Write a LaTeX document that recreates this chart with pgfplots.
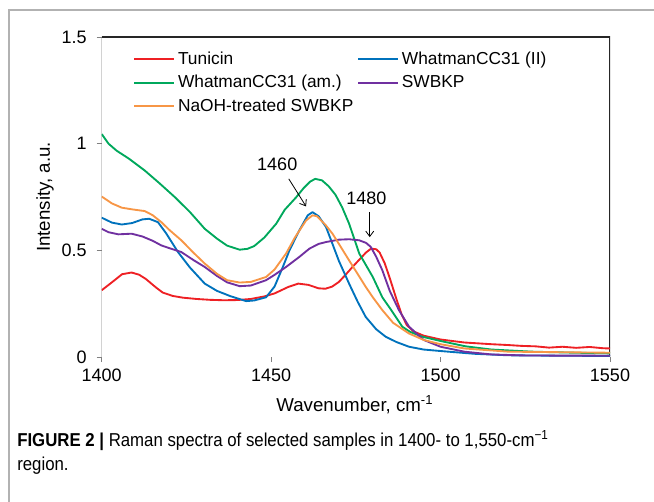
\documentclass[border=0pt]{standalone}
\usepackage{fontspec}
\setmainfont{Liberation Sans}
\newfontfamily\capfont[FakeStretch=0.9]{Liberation Sans}
\usepackage{pgfplots}
\pgfplotsset{compat=1.18}
\usetikzlibrary{arrows.meta}

\definecolor{cRed}{RGB}{238,32,36}
\definecolor{cBlue}{RGB}{0,114,188}
\definecolor{cGreen}{RGB}{0,168,92}
\definecolor{cPurple}{RGB}{112,48,160}
\definecolor{cOrange}{RGB}{247,150,70}

\begin{document}
\begin{tikzpicture}
\path[use as bounding box] (0,0) rectangle (490.5pt,-376.5pt);
% figure frame (left and top)
\draw[gray!60, line width=0.8pt] (6.75pt,-376.5pt) -- (6.75pt,-7.5pt) -- (490.5pt,-7.5pt);

\begin{axis}[
    at={(76.3pt,-267.75pt)}, anchor=south west,
    scale only axis,
    width=381.2pt, height=240pt,
    xmin=1400, xmax=1550,
    ymin=0, ymax=1.5,
    xtick={1400,1450,1500,1550},
    ytick={0,0.5,1,1.5},
    scaled x ticks=false,
    /pgf/number format/1000 sep={},
    /pgf/number format/assume math mode=true,
    tick pos=left,
    tick align=outside,
    major tick length=3.75pt,
    tick style={gray, line width=0.6pt},
    ticklabel style={font=\fontsize{13.5}{16}\selectfont},
    xticklabel style={yshift=-2pt},
    yticklabel style={xshift=-4pt},
    axis line style={draw=none},
    xlabel={Wavenumber, cm\textsuperscript{-1}},
    ylabel={Intensity, a.u.},
    every axis x label/.style={at={(axis description cs:0.498,-0.15)}, anchor=center, font=\fontsize{14}{16}\selectfont},
    every axis y label/.style={at={(axis description cs:-0.1115,0.5)}, anchor=center, rotate=90, font=\fontsize{14}{16}\selectfont},
    legend columns=2,
    legend cell align=left,
    legend style={draw=none, fill=none, at={(0.062,0.962)}, anchor=north west,
        font=\fontsize{13}{16}\selectfont, inner sep=0pt, row sep=2.5pt,
        /tikz/every even column/.append style={column sep=1pt}},
    legend image code/.code={\draw[#1] (0pt,0pt) -- (30pt,0pt);},
    every axis plot/.append style={line width=1.4pt, line join=round},
]

% plot box
\draw[gray, line width=0.7pt] (rel axis cs:0,1) -- (rel axis cs:0,0) -- (rel axis cs:1,0);
\draw[black!85, line width=0.8pt] (rel axis cs:0,1) -- (rel axis cs:1,1) -- (rel axis cs:1,0);

% Tunicin
\addplot[cRed] table {
1400 0.313
1403 0.350
1406 0.388
1408.8 0.396
1411 0.386
1413 0.366
1416 0.326
1418 0.302
1421 0.286
1424 0.278
1428 0.272
1432 0.268
1436 0.266
1440 0.267
1444 0.272
1448 0.284
1451 0.298
1455 0.328
1458 0.344
1461 0.338
1464 0.322
1466 0.320
1468 0.330
1470 0.352
1472 0.386
1474 0.422
1476 0.456
1478 0.490
1479.5 0.508
1481 0.505
1482 0.490
1483.5 0.440
1485 0.370
1487 0.270
1488.5 0.200
1490 0.150
1492 0.120
1495 0.100
1500 0.082
1507 0.068
1515 0.060
1520 0.056
1524 0.052
1528 0.050
1532 0.044
1536 0.048
1540 0.043
1544 0.047
1548 0.041
1550 0.040
};
\addlegendentry{Tunicin}

% WhatmanCC31 (II)
\addplot[cBlue] table {
1400 0.653
1403 0.630
1405.9 0.621
1409 0.628
1412 0.645
1414 0.648
1416.6 0.632
1419 0.580
1422.5 0.492
1426 0.420
1430.4 0.344
1434 0.310
1438 0.285
1442.6 0.262
1445 0.265
1448.5 0.280
1451 0.330
1453.4 0.420
1455.4 0.500
1458.3 0.593
1460.8 0.664
1462.2 0.679
1464 0.660
1466.2 0.609
1468.1 0.530
1470 0.450
1473 0.344
1475.5 0.260
1477.9 0.188
1481 0.130
1483.8 0.095
1487 0.070
1490.7 0.048
1495 0.035
1500 0.028
1510 0.015
1520 0.008
1535 0.006
1550 0.005
};
\addlegendentry{WhatmanCC31 (II)}

% WhatmanCC31 (am.)
\addplot[cGreen] table {
1400 1.045
1402 1.000
1404.4 0.967
1408 0.930
1412.7 0.874
1417 0.815
1421.6 0.749
1426 0.680
1430.4 0.601
1434 0.555
1437 0.522
1440.7 0.503
1443 0.507
1445 0.520
1448 0.560
1451.5 0.625
1454 0.690
1457.4 0.749
1459.5 0.790
1461.5 0.822
1463 0.835
1465 0.828
1467 0.800
1469 0.760
1471 0.700
1473 0.625
1476 0.485
1478 0.430
1480 0.375
1482.8 0.280
1485 0.230
1488.7 0.142
1491 0.118
1494.6 0.095
1500 0.075
1507.4 0.050
1515 0.035
1527 0.025
1540 0.020
1550 0.017
};
\addlegendentry{WhatmanCC31 (am.)}

% SWBKP
\addplot[cPurple] table {
1400 0.601
1402 0.585
1404.9 0.575
1408.8 0.578
1412 0.565
1415 0.545
1417.6 0.523
1420 0.510
1423.5 0.492
1427 0.455
1430.4 0.422
1434 0.380
1437 0.350
1440.7 0.332
1444 0.335
1448.5 0.360
1451 0.385
1454.4 0.422
1458.3 0.469
1461.3 0.508
1464 0.530
1466.2 0.539
1470 0.550
1473 0.552
1476 0.547
1478 0.535
1479.4 0.516
1481 0.470
1482.8 0.407
1485 0.310
1487.7 0.220
1490.7 0.142
1495 0.080
1500 0.048
1507 0.025
1515 0.012
1525 0.007
1550 0.006
};
\addlegendentry{SWBKP}

% NaOH-treated SWBKP
\addplot[cOrange] table {
1400 0.752
1403 0.720
1405.9 0.700
1409 0.692
1412.7 0.684
1415 0.665
1417.6 0.632
1420 0.595
1423.5 0.547
1427 0.490
1430.4 0.438
1434 0.390
1437 0.360
1440.7 0.349
1444 0.352
1448.5 0.375
1451 0.410
1454.4 0.485
1457 0.560
1460.3 0.640
1462.2 0.664
1463.5 0.660
1466 0.620
1468.1 0.578
1470 0.530
1473 0.453
1475.5 0.390
1477.9 0.329
1480 0.280
1482.8 0.220
1486 0.160
1490.7 0.110
1495 0.080
1500 0.060
1507 0.040
1520 0.025
1550 0.020
};
\addlegendentry{NaOH-treated SWBKP}

% peak annotations
\node[font=\fontsize{13.5}{16}\selectfont] at (axis cs:1451.8,0.905) {1460};
\draw[-{Straight Barb[length=4pt,width=6pt]}, line width=0.6pt] (axis cs:1455.2,0.835) -- (axis cs:1460.3,0.706);
\node[font=\fontsize{13.5}{16}\selectfont] at (axis cs:1478.1,0.745) {1480};
\draw[-{Straight Barb[length=4pt,width=6pt]}, line width=0.6pt] (axis cs:1479.1,0.679) -- (axis cs:1479.1,0.562);
\end{axis}

% caption
\node[anchor=base west, inner sep=0pt, font=\capfont\fontsize{14}{16}\selectfont] at (12.75pt,-335pt)
  {\textbf{FIGURE 2 |} Raman spectra of selected samples in 1400- to 1,550-cm\textsuperscript{\textminus1}};
\node[anchor=base west, inner sep=0pt, font=\capfont\fontsize{14}{16}\selectfont] at (12.75pt,-352.5pt) {region.};
\end{tikzpicture}
\end{document}
